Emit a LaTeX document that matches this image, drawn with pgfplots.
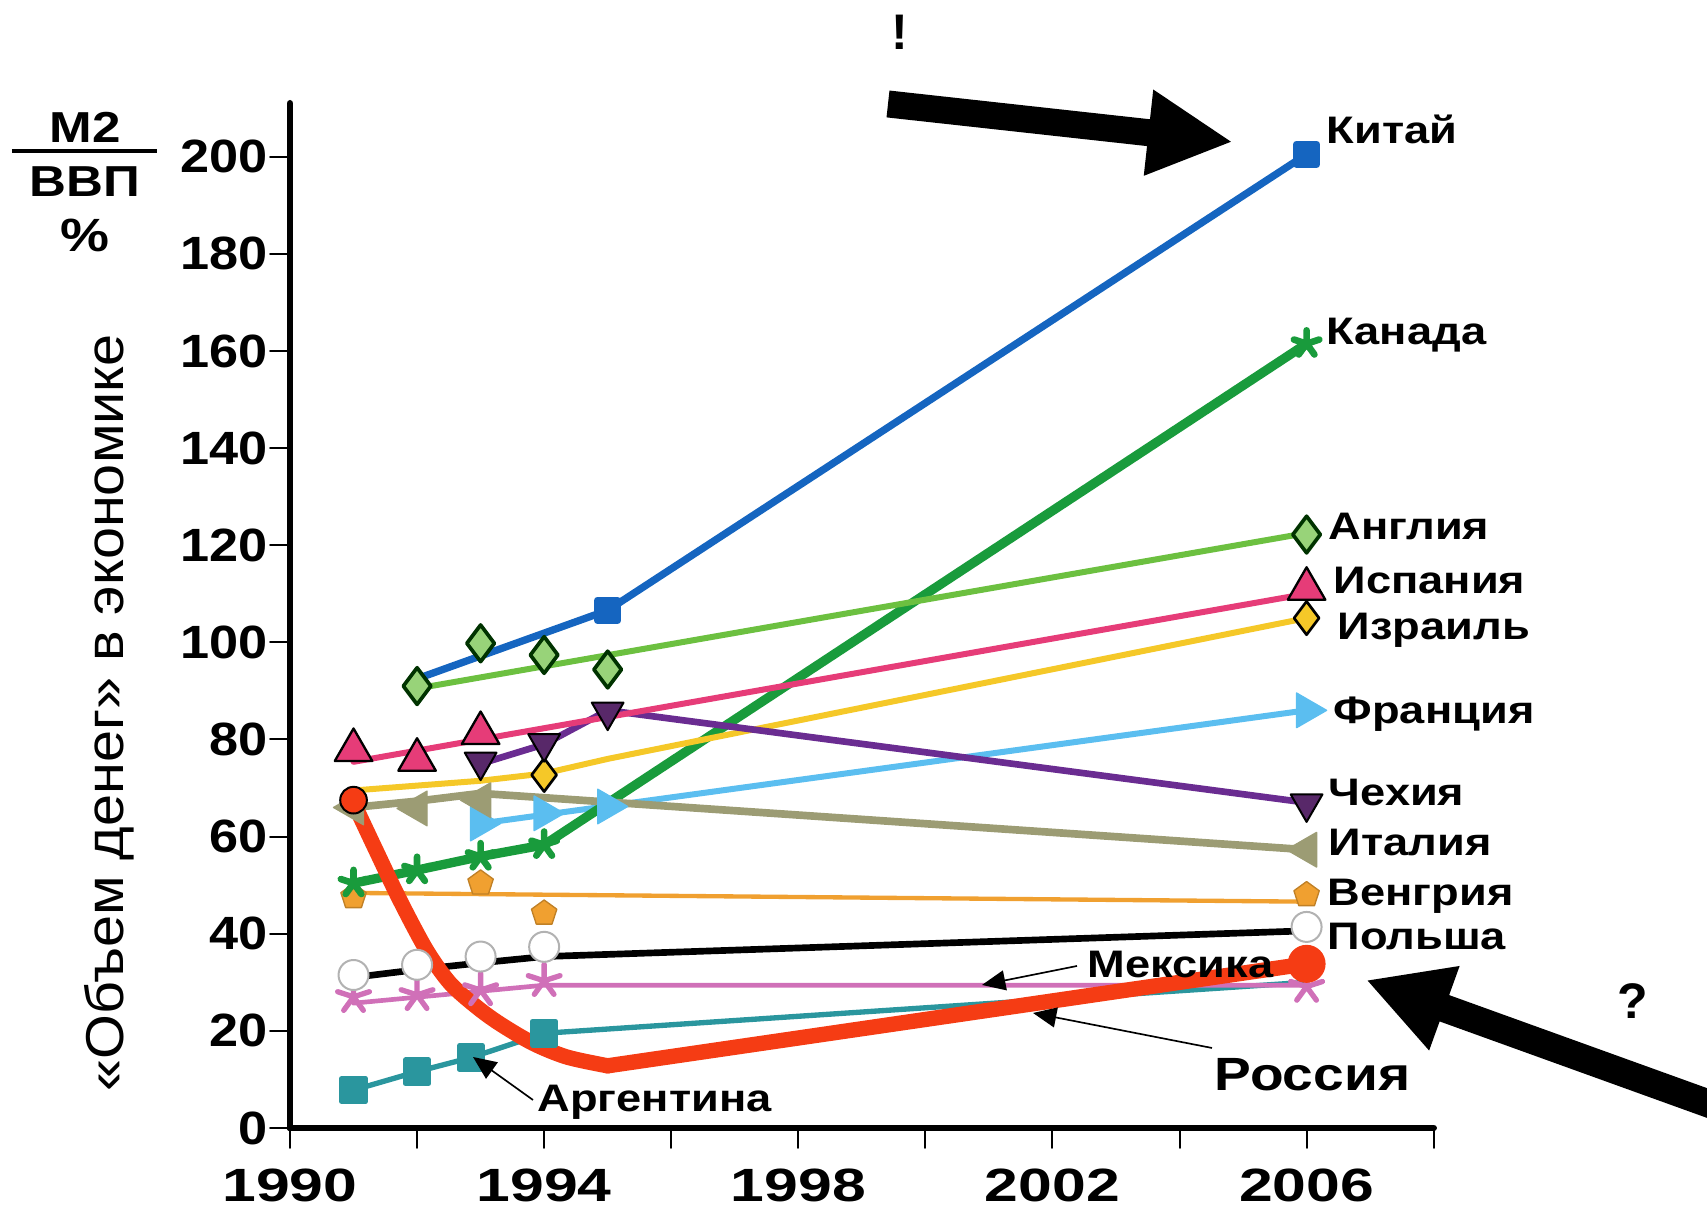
\documentclass[border=0pt]{standalone}
\usepackage{pgfplots}
\pgfplotsset{compat=1.18}
\usepackage{fontspec}
\setmainfont{Liberation Sans}
\newfontfamily\tickfont{Liberation Sans}
\newfontfamily\ytickfont{Liberation Sans}[FakeStretch=1.12]
\newfontfamily\xtickfont{Liberation Sans}[FakeStretch=1.3]
\newfontfamily\lblfont{Liberation Sans}[FakeStretch=1.18]
\newfontfamily\ylblfont{Liberation Sans}[FakeStretch=1.08]
\usetikzlibrary{arrows.meta}

\definecolor{cChina}{RGB}{21,101,192}
\definecolor{cCanada}{RGB}{25,155,60}
\definecolor{cEng}{RGB}{108,192,64}
\definecolor{cSpain}{RGB}{230,60,120}
\definecolor{cIsr}{RGB}{245,200,40}
\definecolor{cCz}{RGB}{106,44,145}
\definecolor{cCzM}{RGB}{88,40,105}
\definecolor{cFr}{RGB}{91,190,240}
\definecolor{cIt}{RGB}{156,156,116}
\definecolor{cHu}{RGB}{240,160,48}
\definecolor{cMx}{RGB}{208,112,184}
\definecolor{cAr}{RGB}{42,150,158}
\definecolor{cRu}{RGB}{245,60,20}

\begin{document}
\begin{tikzpicture}
\begin{axis}[
  at={(0pt,0pt)}, anchor=south west,
  width=343.1pt, height=307.4pt, scale only axis,
  xmin=1990, xmax=2008, ymin=0, ymax=211,
  axis x line*=bottom, axis y line*=left,
  axis line style={-, line width=2pt, black},
  xtick={1990,1994,1998,2002,2006},
  minor xtick={1992,1996,2000,2004,2008},
  ytick={0,20,...,200},
  tick align=outside,
  major tick length=6pt, minor tick length=6pt,
  every tick/.style={black, line width=0.6pt},
  clip=false,
  /pgf/number format/assume math mode=true,
  xticklabel style={/pgf/number format/set thousands separator={}, font=\xtickfont\bfseries\fontsize{14}{16}\selectfont, yshift=-2.6pt},
  yticklabel style={font=\ytickfont\bfseries\fontsize{14}{16}\selectfont, xshift=2.8pt},
  line join=round, line cap=round,
]
% Argentina
\addplot[cAr, line width=1.6pt, mark=square*, mark size=3.5pt, mark options={fill=cAr, draw=cAr}, mark indices={1,2,3,4}]
  coordinates {(1991,7.8) (1992,11.6) (1992.85,14.5) (1994,19.5) (2006,30)};
% Mexico
\addplot[cMx, line width=1.4pt] coordinates {(1991,25.7) (1994,29.4) (2006,29.4)};
\addplot[only marks, mark=star, mark size=5pt, mark options={draw=cMx, line width=1.6pt}]
  coordinates {(1991,27) (1992,27.4) (1993,28.4) (1994,30.3) (2006,29.1)};
% Poland
\addplot[black, line width=2pt] coordinates {(1991,31) (1992,32.6) (1993,34) (1994,35.3) (2006,40.6)};
\addplot[only marks, mark=*, mark size=4.5pt, mark options={fill=white, draw=gray!60, line width=0.6pt}]
  coordinates {(1991,31.5) (1992,33.6) (1993,35.3) (1994,37.3) (2006,41.4)};
% Hungary
\addplot[cHu, line width=1.3pt] coordinates {(1991,48.4) (2006,46.6)};
\addplot[only marks, mark=pentagon*, mark size=4pt, mark options={fill=cHu, draw=cHu!80!black}]
  coordinates {(1991,47.6) (1993,50.4) (1994,44.2) (2006,48)};
% France
\addplot[cFr, line width=1.8pt] coordinates {(1993,62.7) (2006,86)};
\addplot[only marks, mark=triangle*, mark size=6pt, mark options={fill=cFr, draw=cFr, rotate=-90}]
  coordinates {(1993,62.7) (1994,64.8) (1995,66.2) (2006,86)};
% Canada
\addplot[cCanada, line width=2.8pt, mark=star, mark size=4pt, mark options={draw=cCanada, line width=2pt}]
  coordinates {(1991,50.4) (1992,53.1) (1993,55.9) (1994,58.3) (2006,161.5)};
% Italy
\addplot[cIt, line width=2.3pt] coordinates {(1991,66) (1992,67.3) (1993,68.9) (2006,57.3)};
\addplot[only marks, mark=triangle*, mark size=6pt, mark options={fill=cIt, draw=cIt, rotate=90}]
  coordinates {(1991,66) (1992,65.8) (1993,67.5) (2006,57.3)};
% Russia
\addplot[cRu, line width=4.6pt, smooth, tension=0.5]
  coordinates {(1991,67) (1991.36,57) (1991.73,46.9) (1992.15,36.6) (1992.52,29.8) (1992.94,24.9) (1993.31,21.4) (1993.83,17.4) (1994.36,14.6) (1995,12.8)};
\addplot[cRu, line width=4.6pt] coordinates {(1995,12.8) (2006,33.8)};
\addplot[only marks, mark=*, mark size=4pt, mark options={fill=cRu, draw=black, line width=0.6pt}]
  coordinates {(1991,67.5)};
\addplot[only marks, mark=*, mark size=5.5pt, mark options={fill=cRu, draw=cRu}]
  coordinates {(2006,33.8)};
% Israel
\addplot[cIsr, line width=1.8pt] coordinates {(1991,69.5) (1993,71.5) (1994,73) (1995,76) (2006,105)};
\addplot[only marks, mark=diamond*, mark size=5pt, mark options={fill=cIsr, draw=black, line width=0.8pt}]
  coordinates {(1994,72.7) (2006,105)};
% Czech
\addplot[cCz, line width=2pt] coordinates {(1993,75) (1994,79) (1995,86) (2006,67)};
\addplot[only marks, mark=triangle*, mark size=5.5pt, mark options={fill=cCzM, draw=black, line width=0.6pt, rotate=180}]
  coordinates {(1993,75.4) (1994,79.2) (1995,85.7) (2006,66.8)};
% Spain
\addplot[cSpain, line width=1.8pt] coordinates {(1991,75.4) (2006,110)};
\addplot[only marks, mark=triangle*, mark size=6.5pt, mark options={fill=cSpain, draw=black, line width=0.7pt}]
  coordinates {(1991,77.8) (1992,75.8) (1993,81.3) (2006,111)};
% England
\addplot[cEng, line width=1.8pt] coordinates {(1992,90.5) (2006,122.5)};
\addplot[only marks, mark=diamond*, mark size=5.5pt, mark options={fill=cEng!70!white, draw=black!80!green, line width=1.1pt}]
  coordinates {(1992,91) (1993,99.8) (1994,97.4) (1995,94.4) (2006,122.2)};
% China
\addplot[cChina, line width=2.2pt, mark=square*, mark size=3pt, mark options={fill=cChina, draw=cChina},
  mark indices={2,3}]
  coordinates {(1992,92.5) (1995,106.6) (2006,200.5)};
\end{axis}

% y-axis caption
\node[rotate=90, inner sep=0pt, font=\ylblfont\fontsize{16}{18}\selectfont] at (-54.3pt,124.5pt) {«Объем денег» в экономике};
% fraction M2/VVP %
\node[anchor=base, inner sep=0pt, font=\lblfont\bfseries\fontsize{13}{15}\selectfont] at (-61.5pt,295.5pt) {М2};
\draw[line width=1.1pt] (-83.4pt,293.0pt) -- (-39.9pt,293.0pt);
\node[anchor=base, inner sep=0pt, font=\lblfont\bfseries\fontsize{13}{15}\selectfont] at (-61.5pt,279.3pt) {ВВП};
\node[anchor=base, inner sep=0pt, font=\lblfont\bfseries\fontsize{14}{16}\selectfont] at (-61.5pt,262.8pt) {\%};

% country labels
\begin{scope}[every node/.style={anchor=base west, inner sep=0pt, font=\lblfont\bfseries\fontsize{11.5}{13}\selectfont}]
\node at (310.8pt,295.4pt) {Китай};
\node at (310.8pt,234.9pt) {Канада};
\node at (311.4pt,176.4pt) {Англия};
\node at (312.9pt,160.4pt) {Испания};
\node at (314.1pt,146.6pt) {Израиль};
\node at (312.9pt,121.3pt) {Франция};
\node at (311.4pt,96.6pt) {Чехия};
\node at (311.4pt,81.7pt) {Италия};
\node at (311.1pt,66.8pt) {Венгрия};
\node at (311.1pt,53.6pt) {Польша};
\node at (239.1pt,45.0pt) {Мексика};
\node at (74.1pt,4.9pt) {Аргентина};
\node[font=\lblfont\bfseries\fontsize{14}{16}\selectfont] at (277.2pt,11.1pt) {Россия};
\end{scope}

% thin arrows
\draw[line width=0.5pt, -{Triangle[length=7pt,width=6pt]}] (236.1pt,48.6pt) -- (207.6pt,42.9pt);
\draw[line width=0.5pt, -{Triangle[length=7pt,width=6pt]}] (276.6pt,24.0pt) -- (222.9pt,34.5pt);
\draw[line width=0.5pt, -{Triangle[length=7pt,width=6pt]}] (72.9pt,8.4pt) -- (54.9pt,21.3pt);

% big arrows
\draw[line width=8.1pt, -{Triangle[length=25.5pt,width=24pt]}] (179.4pt,307.2pt) -- (282.9pt,295.8pt);
\draw[line width=8.4pt, -{Triangle[length=25pt,width=25pt]}] (432pt,5pt) -- (322.8pt,44.4pt);
\node[font=\tickfont\bfseries\fontsize{15}{17}\selectfont] at (183pt,328.8pt) {!};
\node[font=\tickfont\bfseries\fontsize{15}{17}\selectfont] at (402.9pt,38.1pt) {?};

\pgfresetboundingbox
\path[use as bounding box] (-87pt,-24.3pt) rectangle (425.1pt,338.4pt);
\end{tikzpicture}
\end{document}
